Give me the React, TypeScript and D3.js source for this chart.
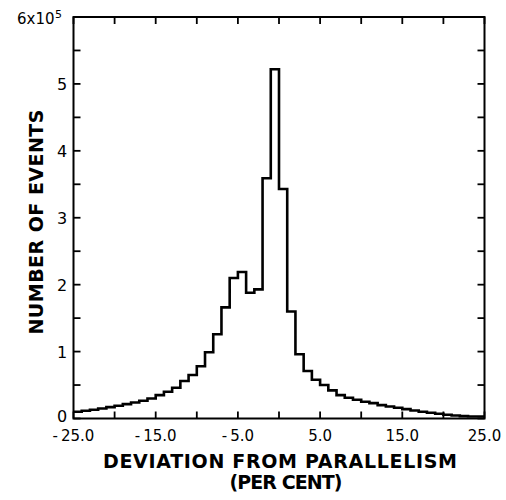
import React from "react";
import * as d3 from "d3";

// Bin left edges (per cent), bin width 1
const binEdges: number[] = d3.range(-25, 25, 1);
// Number of events per bin, in units of 1e5
const counts: number[] = [
  0.10, 0.115, 0.13, 0.15, 0.17, 0.19, 0.215, 0.24, 0.265, 0.30,
  0.35, 0.40, 0.46, 0.56, 0.65, 0.78, 0.99, 1.26, 1.66, 2.10,
  2.19, 1.88, 1.93, 3.59, 5.22,
  3.43, 1.60, 0.96, 0.71, 0.58, 0.50, 0.42, 0.35, 0.31, 0.28,
  0.25, 0.23, 0.20, 0.18, 0.16, 0.14, 0.12, 0.10, 0.085, 0.07,
  0.055, 0.045, 0.035, 0.03, 0.03,
];
const xTickLabels: number[] = [-25, -15, -5, 5, 15, 25];
const xTicks: number[] = d3.range(-25, 26, 5);
const yTickLabels: number[] = [0, 1, 2, 3, 4, 5];
const yTicks: number[] = d3.range(0, 6.01, 0.5);

const W = 506;
const H = 500;
const left = 73.5;
const right = 484.5;
const top = 17;
const bottom = 418.5;

export default function App() {
  const x = d3.scaleLinear().domain([-25, 25]).range([left, right]);
  const y = d3.scaleLinear().domain([0, 6]).range([bottom, top]);

  const pts: [number, number][] = binEdges.map((e, i) => [e, counts[i]]);
  pts.push([25, counts[counts.length - 1]]);
  const line = d3
    .line<[number, number]>()
    .x((d) => x(d[0]))
    .y((d) => y(d[1]))
    .curve(d3.curveStepAfter);

  const fmtX = (v: number) => (v < 0 ? "-\u2009" + Math.abs(v).toFixed(1) : v.toFixed(1));
  const tickLen = 7;
  const font = "'DejaVu Sans', 'Liberation Sans', sans-serif";

  return (
    <svg
      width={W}
      height={H}
      style={{ position: "absolute", left: 0, top: 0, background: "#fff" }}
      fontFamily={font}
    >
      <rect x={0} y={0} width={W} height={H} fill="#fff" />
      {/* ticks */}
      {xTicks.map((t) => (
        <g key={"xt" + t} stroke="#000" strokeWidth={1.8}>
          <line x1={x(t)} x2={x(t)} y1={bottom} y2={bottom - tickLen} />
          <line x1={x(t)} x2={x(t)} y1={top} y2={top + tickLen} />
        </g>
      ))}
      {yTicks.map((t) => (
        <g key={"yt" + t} stroke="#000" strokeWidth={1.8}>
          <line x1={left} x2={left + tickLen} y1={y(t)} y2={y(t)} />
          <line x1={right} x2={right - tickLen} y1={y(t)} y2={y(t)} />
        </g>
      ))}
      {/* frame */}
      <rect
        x={left}
        y={top}
        width={right - left}
        height={bottom - top}
        fill="none"
        stroke="#000"
        strokeWidth={2}
      />
      {/* histogram */}
      <path d={line(pts) || ""} fill="none" stroke="#000" strokeWidth={2.6} strokeLinejoin="miter" />
      {/* x tick labels */}
      {xTickLabels.map((t) => (
        <text
          key={"xl" + t}
          x={x(t)}
          y={441}
          textAnchor="middle"
          fontSize={15}
          fill="#000"
        >
          {fmtX(t)}
        </text>
      ))}
      {/* y tick labels */}
      {yTickLabels.map((t) => (
        <text
          key={"yl" + t}
          x={62}
          y={t === 0 ? y(t) + 3 : y(t) + 6}
          textAnchor="middle"
          fontSize={16}
          fill="#000"
        >
          {t}
        </text>
      ))}
      <text x={17} y={24} fontSize={15} fill="#000">
        6x10
      </text>
      <text x={55} y={18} fontSize={11} fill="#000">
        5
      </text>
      {/* axis titles */}
      <text
        x={280}
        y={468}
        textAnchor="middle"
        fontSize={19}
        fontWeight="bold"
        fill="#000"
        textLength={354}
        lengthAdjust="spacing"
      >
        DEVIATION FROM PARALLELISM
      </text>
      <text
        x={286}
        y={489}
        textAnchor="middle"
        fontSize={19}
        fontWeight="bold"
        fill="#000"
        textLength={113}
        lengthAdjust="spacing"
      >
        (PER CENT)
      </text>
      <text
        transform="translate(43,222) rotate(-90)"
        x={0}
        y={0}
        textAnchor="middle"
        fontSize={19}
        fontWeight="bold"
        fill="#000"
        textLength={225}
        lengthAdjust="spacing"
      >
        NUMBER OF EVENTS
      </text>
    </svg>
  );
}
